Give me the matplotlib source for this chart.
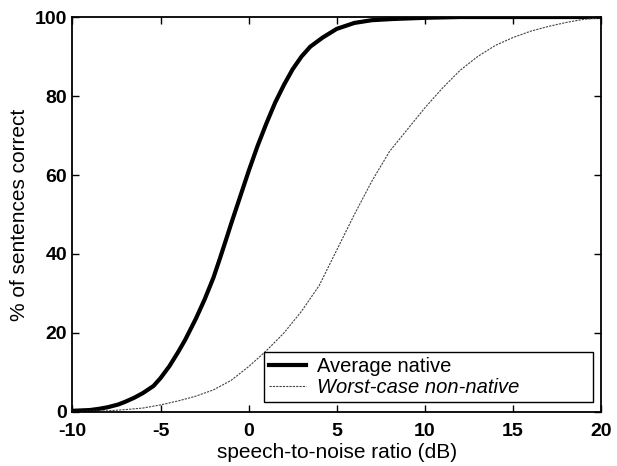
import matplotlib
matplotlib.use("Agg")
import matplotlib.pyplot as plt

plt.rcParams['font.family'] = ['Liberation Sans', 'DejaVu Sans']
plt.rcParams['axes.unicode_minus'] = False

native_x = [-10, -9, -8.5, -8, -7.4, -7, -6.5, -6, -5.4, -5, -4.5, -4, -3.6, -3, -2.5, -2,
            -1.6, -1.2, -1, -0.5, 0, 0.5, 1, 1.5, 2, 2.5, 3, 3.5, 4.2, 5, 6, 7, 8.2, 10, 12, 15, 20]
native_y = [0.3, 0.5, 0.8, 1.2, 1.9, 2.6, 3.6, 4.8, 6.6, 8.6, 11.6, 15.2, 18.3, 23.6, 28.5, 34,
            39.3, 44.8, 47.6, 54.3, 61, 67.3, 73, 78.3, 82.8, 86.8, 90, 92.5, 94.8, 97, 98.5, 99.2, 99.5, 99.8, 100, 100, 100]

nonnative_x = [-10, -8, -7, -6, -5, -4, -3, -2, -1, 0, 1, 2, 3, 4, 5, 6, 7, 8, 9, 10,
               11, 12, 13, 14, 15, 16, 17, 18, 19, 20]
nonnative_y = [0.1, 0.3, 0.6, 1.0, 1.8, 2.8, 4.0, 5.6, 8.0, 11.5, 15.5, 20, 25.5, 32, 41, 50,
               58.5, 66, 71.5, 77, 82, 86.5, 90, 92.8, 94.8, 96.4, 97.6, 98.6, 99.4, 99.8]

series_labels = ["Average native", "Worst-case non-native"]
xticks = [-10, -5, 0, 5, 10, 15, 20]
yticks = [0, 20, 40, 60, 80, 100]

fig = plt.figure(figsize=(6.17, 4.66), dpi=100)
ax = fig.add_axes([0.1175, 0.1159, 0.8566, 0.8476])

ax.plot(native_x, native_y, color='black', lw=3.0, label=series_labels[0])
ax.plot(nonnative_x, nonnative_y, color='#444444', lw=0.8, linestyle=(0, (2, 1)), label=series_labels[1])

ax.set_xlim(-10, 20)
ax.set_ylim(0, 100)
ax.set_xticks(xticks)
ax.set_yticks(yticks)
ax.tick_params(direction='in', top=True, right=True, length=5, width=1, labelsize=14)
ax.tick_params(axis='x', pad=8)
ax.tick_params(axis='y', pad=4)
for lab in ax.get_xticklabels() + ax.get_yticklabels():
    lab.set_fontweight('bold')
for s in ax.spines.values():
    s.set_linewidth(1.3)

ax.set_xlabel("speech-to-noise ratio (dB)", fontsize=15, labelpad=2)
ax.set_ylabel("% of sentences correct", fontsize=15, labelpad=4)

leg = ax.legend(loc='lower left', bbox_to_anchor=(0.362, 0.025, 0.623, 0.145), mode='expand',
                fancybox=False, edgecolor='black', framealpha=1, fontsize=14.5,
                handlelength=1.85, handletextpad=0.55, borderpad=0.25, borderaxespad=0,
                labelspacing=0.1)
leg.get_frame().set_linewidth(1.0)
leg.get_texts()[1].set_fontstyle('italic')

fig.savefig("out.png", dpi=100)
